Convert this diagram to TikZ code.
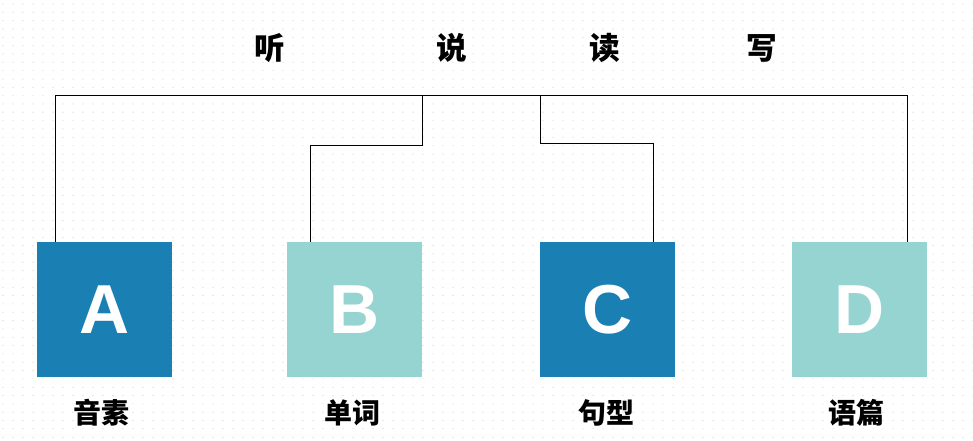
\documentclass[tikz,border=0pt]{standalone}
\usepackage{fontspec}
\setmainfont{Liberation Sans}
\newfontfamily\cjk{Noto Sans CJK SC}
\usetikzlibrary{calc, positioning}
\definecolor{darkblue}{HTML}{1A7FB3}
\definecolor{lightteal}{HTML}{96D4D1}
\tikzstyle{letterbox} = [rectangle, minimum size=101.25pt, inner sep=0pt, text=white, font=\bfseries\fontsize{52}{52}\selectfont]
\tikzstyle{skill} = [font=\cjk\bfseries\fontsize{23}{23}\selectfont]
\tikzstyle{level} = [font=\cjk\bfseries\fontsize{21}{21}\selectfont]
\tikzstyle{line} = [draw, black, line width=0.75pt]

\begin{document}
\begin{tikzpicture}[x=0.75pt, y=-0.75pt]
  \useasboundingbox (0,0) rectangle (973,440);
  % dotted background
  \foreach \i in {0,...,97} {
    \foreach \j in {0,...,52} {
      \fill[black!18] (\i*10+3, \j*8.33+4) circle (0.45pt);
    }
  }

  \node (listen) [skill] at (270,48) {听};
  \node (speak) [skill] at (452,48) {说};
  \node (read) [skill] at (605,48) {读};
  \node (write) [skill] at (762,48) {写};

  \node (boxA) [letterbox, fill=darkblue] at (104.5,309.5) {A};
  \node (boxB) [letterbox, fill=lightteal] at (354.5,309.5) {B};
  \node (boxC) [letterbox, fill=darkblue] at (607.5,309.5) {C};
  \node (boxD) [letterbox, fill=lightteal] at (859.5,309.5) {D};

  \node (phoneme) [level] at (101,413) {音素};
  \node (word) [level] at (352,413) {单词};
  \node (pattern) [level] at (606,413) {句型};
  \node (passage) [level] at (856,413) {语篇};

  % bus line and branches
  \coordinate (busA) at (55,95);
  \coordinate (busB) at (422,95);
  \coordinate (busC) at (540,95);
  \coordinate (busD) at (907,95);
  \coordinate (stepB) at (310,145);
  \coordinate (stepC) at (653,143);
  \path [line] (busA) -- (busD);
  \path [line] (busA) -- (busA |- boxA.north);
  \path [line] (busB) |- (stepB) -- (stepB |- boxB.north);
  \path [line] (busC) |- (stepC) -- (stepC |- boxC.north);
  \path [line] (busD) -- (busD |- boxD.north);
\end{tikzpicture}
\end{document}
